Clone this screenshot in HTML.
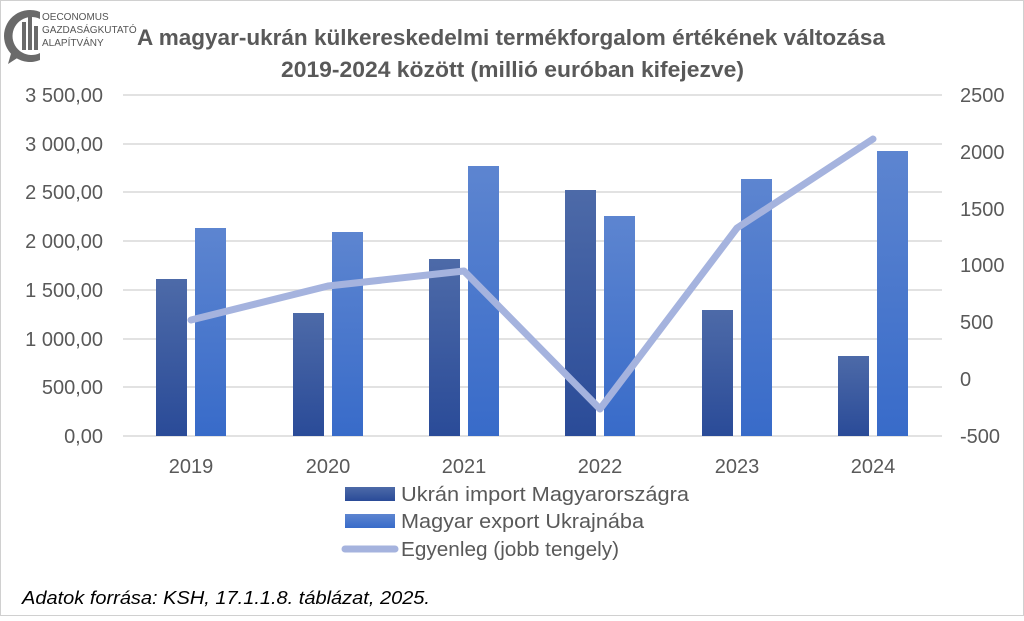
<!DOCTYPE html>
<html><head><meta charset="utf-8"><style>
body{margin:0;background:#fff}
svg text{font-family:"Liberation Sans",sans-serif}
</style></head><body>
<svg width="1024" height="616" viewBox="0 0 1024 616" xmlns="http://www.w3.org/2000/svg">
<defs>
<linearGradient id="gd" x1="0" y1="0" x2="0" y2="1"><stop offset="0" stop-color="#4d6aa8"/><stop offset="1" stop-color="#2a4b98"/></linearGradient>
<linearGradient id="gl" x1="0" y1="0" x2="0" y2="1"><stop offset="0" stop-color="#5d85d0"/><stop offset="1" stop-color="#386bc9"/></linearGradient>
</defs>
<rect x="0.5" y="0.5" width="1023" height="615" fill="#fff" stroke="#d0d0d0"/>
<g fill="#6a6a6a">
<path d="M40 12 A26 26 0 1 0 40 60 L40 53 A19 19 0 1 1 40 19 Z"/>
<path d="M12 50 L8 64 L22 55 Z"/>
<rect x="22" y="22" width="4" height="28"/><rect x="28" y="16" width="4" height="34"/><rect x="34" y="26" width="4" height="24"/>
</g>
<text x="42" y="20" font-size="10" fill="#555">OECONOMUS</text>
<text x="42" y="33" font-size="10" fill="#555">GAZDASÁGKUTATÓ</text>
<text x="42" y="46" font-size="10" fill="#555">ALAPÍTVÁNY</text>
<text x="137" y="45" font-size="22" font-weight="bold" fill="#595959" textLength="748" lengthAdjust="spacingAndGlyphs">A magyar-ukrán külkereskedelmi termékforgalom értékének változása</text>
<text x="281" y="77" font-size="22" font-weight="bold" fill="#595959" textLength="463" lengthAdjust="spacingAndGlyphs">2019-2024 között (millió euróban kifejezve)</text>
<g stroke="#d9d9d9" stroke-width="1.5">
<line x1="123" x2="942" y1="95" y2="95"/><line x1="123" x2="942" y1="144" y2="144"/><line x1="123" x2="942" y1="192" y2="192"/><line x1="123" x2="942" y1="241" y2="241"/><line x1="123" x2="942" y1="290" y2="290"/><line x1="123" x2="942" y1="339" y2="339"/><line x1="123" x2="942" y1="387" y2="387"/><line x1="123" x2="942" y1="436" y2="436"/>
</g>
<g font-size="20" fill="#595959" text-anchor="end">
<text x="103" y="102">3 500,00</text><text x="103" y="151">3 000,00</text><text x="103" y="199">2 500,00</text><text x="103" y="248">2 000,00</text><text x="103" y="297">1 500,00</text><text x="103" y="346">1 000,00</text><text x="103" y="394">500,00</text><text x="103" y="443">0,00</text>
</g>
<g font-size="20" fill="#595959">
<text x="960" y="102">2500</text><text x="960" y="159">2000</text><text x="960" y="216">1500</text><text x="960" y="272">1000</text><text x="960" y="329">500</text><text x="960" y="386">0</text><text x="960" y="443">-500</text>
</g>
<g font-size="20" fill="#595959" text-anchor="middle">
<text x="191" y="473">2019</text><text x="328" y="473">2020</text><text x="464" y="473">2021</text><text x="600" y="473">2022</text><text x="737" y="473">2023</text><text x="873" y="473">2024</text>
</g>
<g fill="url(#gd)">
<rect x="156" y="279" width="31" height="157"/><rect x="293" y="313" width="31" height="123"/><rect x="429" y="259" width="31" height="177"/><rect x="565" y="190" width="31" height="246"/><rect x="702" y="310" width="31" height="126"/><rect x="838" y="356" width="31" height="80"/>
</g>
<g fill="url(#gl)">
<rect x="195" y="228" width="31" height="208"/><rect x="332" y="232" width="31" height="204"/><rect x="468" y="166" width="31" height="270"/><rect x="604" y="216" width="31" height="220"/><rect x="741" y="179" width="31" height="257"/><rect x="877" y="151" width="31" height="285"/>
</g>
<polyline points="191,320 328,286 464,271 600,409 737,228 873,139" fill="none" stroke="#a5b3de" stroke-width="7" stroke-linecap="round" stroke-linejoin="round"/>
<rect x="345" y="487" width="50" height="14" fill="url(#gd)"/>
<rect x="345" y="514" width="50" height="14" fill="url(#gl)"/>
<line x1="345" x2="395" y1="549" y2="549" stroke="#a5b3de" stroke-width="7" stroke-linecap="round"/>
<g font-size="20" fill="#595959">
<text x="401" y="501" textLength="288" lengthAdjust="spacingAndGlyphs">Ukrán import Magyarországra</text>
<text x="401" y="528" textLength="243" lengthAdjust="spacingAndGlyphs">Magyar export Ukrajnába</text>
<text x="401" y="556" textLength="218" lengthAdjust="spacingAndGlyphs">Egyenleg (jobb tengely)</text>
</g>
<text x="22" y="604" font-size="18" font-style="italic" fill="#000" textLength="408" lengthAdjust="spacingAndGlyphs">Adatok forrása: KSH, 17.1.1.8. táblázat, 2025.</text>
</svg>
</body></html>
